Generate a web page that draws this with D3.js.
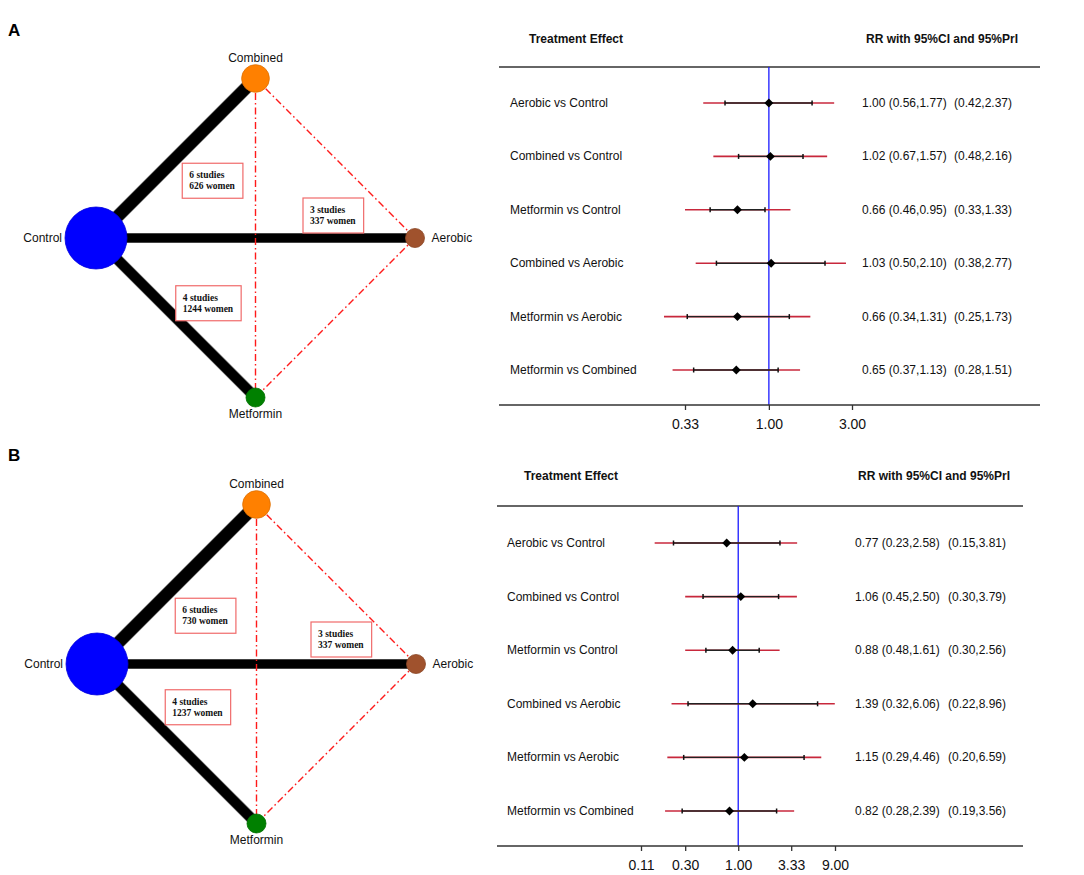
<!DOCTYPE html>
<html>
<head>
<meta charset="utf-8">
<script src="https://cdn.jsdelivr.net/npm/d3@7"></script>
<style>
  html, body { margin: 0; padding: 0; background: #fff; }
  svg { display: block; font-family: "Liberation Sans", Arial, sans-serif; }
</style>
</head>
<body>
<svg id="chart" width="1084" height="875"></svg>
<script>
// ---------------- DATA ----------------
const treatments = ["Control", "Combined", "Aerobic", "Metformin"];
const nodeWeightA = [100, 20, 9.4, 9.4];
const nodeWeightB = [100, 20, 9.4, 9.4];
const nodeColors = ["#0000ff", "#ff8000", "#a0522d", "#008000"];

const edgeFrom = ["Control", "Control", "Control"];
const edgeTo = ["Combined", "Aerobic", "Metformin"];
const studiesA = [6, 3, 4];
const womenA = [626, 337, 1244];
const studiesB = [6, 3, 4];
const womenB = [730, 337, 1237];

const indirectFrom = ["Combined", "Combined", "Aerobic"];
const indirectTo = ["Metformin", "Aerobic", "Metformin"];

const comparisons = ["Aerobic vs Control", "Combined vs Control", "Metformin vs Control",
  "Combined vs Aerobic", "Metformin vs Aerobic", "Metformin vs Combined"];

const rrA     = [1.00, 1.02, 0.66, 1.03, 0.66, 0.65];
const ciLowA  = [0.56, 0.67, 0.46, 0.50, 0.34, 0.37];
const ciHighA = [1.77, 1.57, 0.95, 2.10, 1.31, 1.13];
const piLowA  = [0.42, 0.48, 0.33, 0.38, 0.25, 0.28];
const piHighA = [2.37, 2.16, 1.33, 2.77, 1.73, 1.51];

const rrB     = [0.77, 1.06, 0.88, 1.39, 1.15, 0.82];
const ciLowB  = [0.23, 0.45, 0.48, 0.32, 0.29, 0.28];
const ciHighB = [2.58, 2.50, 1.61, 6.06, 4.46, 2.39];
const piLowB  = [0.15, 0.30, 0.30, 0.22, 0.20, 0.19];
const piHighB = [3.81, 3.79, 2.56, 8.96, 6.59, 3.56];

const ticksA = [0.33, 1.00, 3.00];
const ticksB = [0.11, 0.30, 1.00, 3.33, 9.00];

// ---------------- DRAW ----------------
const svg = d3.select("#chart");
const fmt = d3.format(".2f");
const SERIF = "'Liberation Serif', 'Times New Roman', serif";

function drawNetwork(cfg) {
  const g = svg.append("g");
  const angles = { Control: Math.PI, Combined: -Math.PI / 2, Aerobic: 0, Metformin: Math.PI / 2 };
  const rScale = d3.scaleSqrt().domain([0, 100]).range([0, 31]);
  const wScale = d3.scaleLinear().domain([3, 6]).range([9, 12]);
  const pos = {};
  treatments.forEach((t, i) => {
    pos[t] = {
      x: cfg.cx + cfg.R * Math.cos(angles[t]),
      y: cfg.cy + cfg.R * Math.sin(angles[t]),
      r: rScale(cfg.weights[i]),
      color: nodeColors[i]
    };
  });
  const edges = edgeFrom.map((f, i) => ({ f, t: edgeTo[i], s: cfg.studies[i], w: cfg.women[i], i }));
  g.selectAll("line.edgeOut").data(edges).join("line")
    .attr("x1", d => pos[d.f].x).attr("y1", d => pos[d.f].y)
    .attr("x2", d => pos[d.t].x).attr("y2", d => pos[d.t].y)
    .attr("stroke", "#888").attr("stroke-width", d => wScale(d.s) + 1.2);
  g.selectAll("line.edge").data(edges).join("line")
    .attr("x1", d => pos[d.f].x).attr("y1", d => pos[d.f].y)
    .attr("x2", d => pos[d.t].x).attr("y2", d => pos[d.t].y)
    .attr("stroke", "#000").attr("stroke-width", d => wScale(d.s));
  const ind = indirectFrom.map((f, i) => ({ f, t: indirectTo[i] }));
  g.selectAll("line.ind").data(ind).join("line")
    .attr("x1", d => pos[d.f].x).attr("y1", d => pos[d.f].y)
    .attr("x2", d => pos[d.t].x).attr("y2", d => pos[d.t].y)
    .attr("stroke", "#ff1a1a").attr("stroke-width", 1.4)
    .attr("stroke-dasharray", "7,3,1.5,3");
  edges.forEach((d, k) => {
    const mx = (pos[d.f].x + pos[d.t].x) / 2, my = (pos[d.f].y + pos[d.t].y) / 2;
    const bx = mx + cfg.boxOff[k][0], by = my + cfg.boxOff[k][1];
    const bg = g.append("g");
    const rect = bg.append("rect").attr("x", bx).attr("y", by)
      .attr("height", 35).attr("fill", "#fff").attr("stroke", "#f06a6a").attr("stroke-width", 1.2);
    const t1 = bg.append("text").attr("x", bx + 7).attr("y", by + 15)
      .style("font-family", SERIF).style("font-weight", "bold").style("font-size", "9.5px")
      .attr("fill", "#111").text(d.s + " studies");
    const t2 = bg.append("text").attr("x", bx + 7).attr("y", by + 26)
      .style("font-family", SERIF).style("font-weight", "bold").style("font-size", "9.5px")
      .attr("fill", "#111").text(d.w + " women");
    const tw = Math.max(t1.node().getComputedTextLength(), t2.node().getComputedTextLength());
    rect.attr("width", tw + 15);
  });
  g.selectAll("circle.node").data(treatments).join("circle")
    .attr("cx", t => pos[t].x).attr("cy", t => pos[t].y).attr("r", t => pos[t].r)
    .attr("fill", t => pos[t].color)
    .attr("stroke", t => d3.color(pos[t].color).darker(0.4)).attr("stroke-width", 0.8);
  const lab = g.append("g").style("font-size", "12px").attr("fill", "#111");
  lab.append("text").attr("x", pos.Control.x - pos.Control.r - 3).attr("y", pos.Control.y + 4)
    .attr("text-anchor", "end").text("Control");
  lab.append("text").attr("x", pos.Aerobic.x + pos.Aerobic.r + 7).attr("y", pos.Aerobic.y + 4)
    .text("Aerobic");
  lab.append("text").attr("x", pos.Combined.x).attr("y", pos.Combined.y - pos.Combined.r - 3)
    .attr("text-anchor", "middle").text("Combined");
  lab.append("text").attr("x", pos.Metformin.x).attr("y", pos.Metformin.y + pos.Metformin.r + 11)
    .attr("text-anchor", "middle").text("Metformin");
}

function drawForest(cfg) {
  const g = svg.append("g");
  const x = d3.scaleLog().domain(cfg.domain).range(cfg.range);
  const y = d3.scalePoint().domain(comparisons).range(cfg.rows);
  const rows = comparisons.map((c, i) => ({
    c, rr: cfg.rr[i], cl: cfg.cl[i], ch: cfg.ch[i], pl: cfg.pl[i], ph: cfg.ph[i]
  }));
  g.append("text").attr("x", cfg.hdr1).attr("y", cfg.hdrY).style("font-weight", "bold")
    .style("font-size", "12px").attr("fill", "#111").text("Treatment Effect");
  g.append("text").attr("x", cfg.hdr2).attr("y", cfg.hdrY).style("font-weight", "bold")
    .style("font-size", "12px").attr("fill", "#111").text("RR with 95%CI and 95%PrI");
  g.append("line").attr("x1", cfg.lineX[0]).attr("x2", cfg.lineX[1])
    .attr("y1", cfg.top).attr("y2", cfg.top).attr("stroke", "#333").attr("stroke-width", 1.5);
  g.append("line").attr("x1", x(1)).attr("x2", x(1)).attr("y1", cfg.top).attr("y2", cfg.bottom)
    .attr("stroke", "#1a1aff").attr("stroke-width", 1.3);
  g.selectAll("line.pi").data(rows).join("line")
    .attr("x1", d => x(d.pl)).attr("x2", d => x(d.ph))
    .attr("y1", d => y(d.c)).attr("y2", d => y(d.c))
    .attr("stroke", "#c8283c").attr("stroke-width", 1.6);
  g.selectAll("line.ci").data(rows).join("line")
    .attr("x1", d => x(d.cl)).attr("x2", d => x(d.ch))
    .attr("y1", d => y(d.c)).attr("y2", d => y(d.c))
    .attr("stroke", "#222").attr("stroke-width", 1.4);
  rows.forEach(d => {
    [d.cl, d.ch].forEach(v => {
      g.append("line").attr("x1", x(v)).attr("x2", x(v))
        .attr("y1", y(d.c) - 2.5).attr("y2", y(d.c) + 2.5)
        .attr("stroke", "#111").attr("stroke-width", 1.5);
    });
  });
  g.selectAll("path.pt").data(rows).join("path")
    .attr("d", d3.symbol(d3.symbolSquare, 40))
    .attr("transform", d => `translate(${x(d.rr)},${y(d.c)}) rotate(45)`)
    .attr("fill", "#000");
  g.selectAll("text.lab").data(rows).join("text")
    .attr("x", cfg.labX).attr("y", d => y(d.c) + 4)
    .style("font-size", "12px").attr("fill", "#111").text(d => d.c);
  g.selectAll("text.v1").data(rows).join("text")
    .attr("x", cfg.valX[0]).attr("y", d => y(d.c) + 4)
    .style("font-size", "12px").attr("fill", "#111")
    .text(d => `${fmt(d.rr)} (${fmt(d.cl)},${fmt(d.ch)})`);
  g.selectAll("text.v2").data(rows).join("text")
    .attr("x", cfg.valX[1]).attr("y", d => y(d.c) + 4)
    .style("font-size", "12px").attr("fill", "#111")
    .text(d => `(${fmt(d.pl)},${fmt(d.ph)})`);
  const ax = g.append("g").attr("transform", `translate(0,${cfg.bottom})`)
    .call(d3.axisBottom(x).tickValues(cfg.ticks).tickFormat(fmt).tickSize(5).tickSizeOuter(0));
  ax.select(".domain").remove();
  ax.selectAll(".tick line").attr("stroke", "#333").attr("stroke-width", 1.3);
  ax.selectAll(".tick text").style("font-size", "14px")
    .style("font-family", "'Liberation Sans', Arial, sans-serif")
    .attr("fill", "#111").attr("dy", "1.15em");
  g.append("line").attr("x1", cfg.lineX[0]).attr("x2", cfg.lineX[1])
    .attr("y1", cfg.bottom).attr("y2", cfg.bottom).attr("stroke", "#333").attr("stroke-width", 1.5);
}

svg.append("text").attr("x", 8).attr("y", 36).style("font-weight", "bold").style("font-size", "17px").text("A");
svg.append("text").attr("x", 8).attr("y", 461).style("font-weight", "bold").style("font-size", "17px").text("B");

drawNetwork({
  cx: 255.5, cy: 238, R: 159.5, weights: nodeWeightA, studies: studiesA, women: womenA,
  boxOff: [[6.5, 5], [47.5, -40], [0, -32]]
});
drawNetwork({
  cx: 256.5, cy: 664, R: 159.5, weights: nodeWeightB, studies: studiesB, women: womenB,
  boxOff: [[-1.5, 14], [54.5, -42], [-11.5, -54]]
});

drawForest({
  domain: [0.33, 3], range: [685, 852], rows: [103, 370], top: 67, bottom: 405,
  lineX: [499, 1040], hdrY: 43, hdr1: 529, hdr2: 866, labX: 510, valX: [862, 954],
  rr: rrA, cl: ciLowA, ch: ciHighA, pl: piLowA, ph: piHighA, ticks: ticksA
});
drawForest({
  domain: [0.11, 9], range: [641, 835], rows: [543, 811], top: 506, bottom: 846,
  lineX: [497, 1023], hdrY: 480, hdr1: 524, hdr2: 858, labX: 507, valX: [855, 948],
  rr: rrB, cl: ciLowB, ch: ciHighB, pl: piLowB, ph: piHighB, ticks: ticksB
});
</script>
</body>
</html>
